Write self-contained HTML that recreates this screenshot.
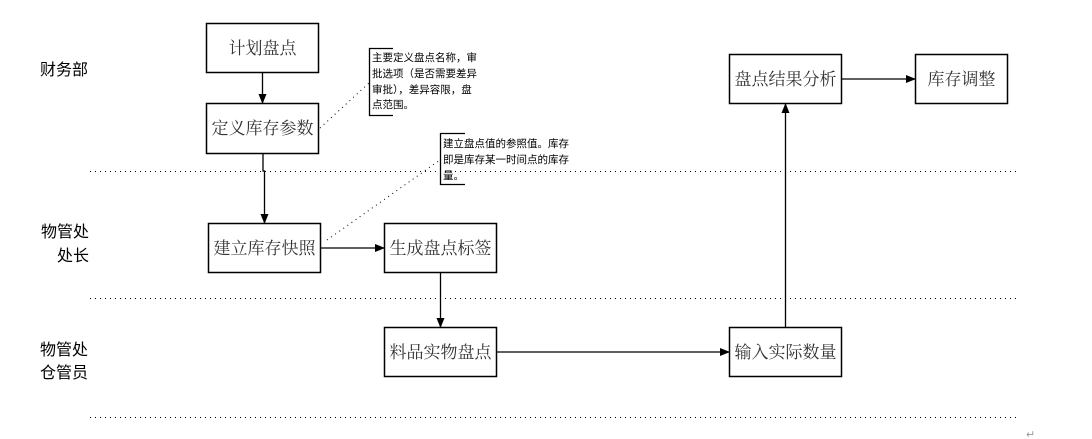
<!DOCTYPE html>
<html><head><meta charset="utf-8"><style>
html,body{margin:0;padding:0;background:#fff;}
svg{display:block;}
.b{font-family:"Liberation Serif","Noto Serif CJK SC",serif;font-size:17px;fill:#333;}
.l{font-family:"Liberation Sans","Noto Sans CJK SC",sans-serif;font-size:16px;fill:#000;}
.s{font-family:"Liberation Sans","WenQuanYi Zen Hei",sans-serif;font-size:10.5px;fill:#000;}
</style></head><body>
<svg width="1092" height="439" viewBox="0 0 1092 439" xmlns="http://www.w3.org/2000/svg">
<defs><marker id="a" markerWidth="10" markerHeight="8" refX="9" refY="4" orient="auto" markerUnits="userSpaceOnUse"><path d="M0,0 L10,4 L0,8 z" fill="#000"/></marker></defs>
<g stroke="#000" stroke-width="1" stroke-dasharray="1,4">
<line x1="90" y1="171.5" x2="1020" y2="171.5"/>
<line x1="90" y1="298.5" x2="1020" y2="298.5"/>
<line x1="90" y1="417.5" x2="1020" y2="417.5"/>
<line x1="320" y1="128" x2="369" y2="83"/>
<line x1="327" y1="240" x2="440" y2="160"/>
</g>
<g fill="#fff" stroke="#000" stroke-width="1.5">
<rect x="206.5" y="23.5" width="112" height="49"/>
<rect x="206.5" y="103.5" width="112" height="50"/>
<rect x="208.5" y="223.5" width="112" height="49"/>
<rect x="384.5" y="223.5" width="112" height="49"/>
<rect x="384.5" y="327.5" width="112" height="49"/>
<rect x="729.5" y="327.5" width="112" height="49"/>
<rect x="729.5" y="54.5" width="112" height="49"/>
<rect x="915.5" y="54.5" width="92" height="49"/>
</g>
<g stroke="#000" stroke-width="1.3" fill="none">
<line x1="262.5" y1="72" x2="262.5" y2="103" marker-end="url(#a)"/>
<polyline points="263,153 263,171 264.5,171 264.5,223" marker-end="url(#a)"/>
<line x1="320" y1="248" x2="384" y2="248" marker-end="url(#a)"/>
<line x1="440.5" y1="272" x2="440.5" y2="327" marker-end="url(#a)"/>
<line x1="496" y1="352" x2="729" y2="352" marker-end="url(#a)"/>
<line x1="785.5" y1="327" x2="785.5" y2="104" marker-end="url(#a)"/>
<line x1="841" y1="79" x2="915" y2="79" marker-end="url(#a)"/>
<polyline points="393,48.5 369.5,48.5 369.5,115.5 393,115.5"/>
<polyline points="465,133.5 440.5,133.5 440.5,184.5 465,184.5"/>
</g>
<g class="b" text-anchor="middle">
<text x="262.5" y="54">计划盘点</text>
<text x="262.5" y="134">定义库存参数</text>
<text x="264.5" y="254">建立库存快照</text>
<text x="440.5" y="254">生成盘点标签</text>
<text x="440.5" y="358">料品实物盘点</text>
<text x="785.5" y="358">输入实际数量</text>
<text x="785.5" y="85">盘点结果分析</text>
<text x="961.5" y="85">库存调整</text>
</g>
<g class="l">
<text x="40" y="75">财务部</text>
<text x="41" y="237">物管处</text>
<text x="57" y="261">处长</text>
<text x="40" y="355">物管处</text>
<text x="40" y="378">仓管员</text>
</g>
<g class="s">
<text x="372" y="61">主要定义盘点名称，审</text>
<text x="372" y="77">批选项（是否需要差异</text>
<text x="372" y="93">审批），差异容限，盘</text>
<text x="372" y="108">点范围。</text>
<text x="443" y="147">建立盘点值的参照值。库存</text>
<text x="443" y="163">即是库存某一时间点的库存</text>
<text x="443" y="179">量。</text>
</g>
<text x="1026" y="438" font-family="Liberation Sans,sans-serif" font-size="11" fill="#999">↵</text>
</svg>
</body></html>
